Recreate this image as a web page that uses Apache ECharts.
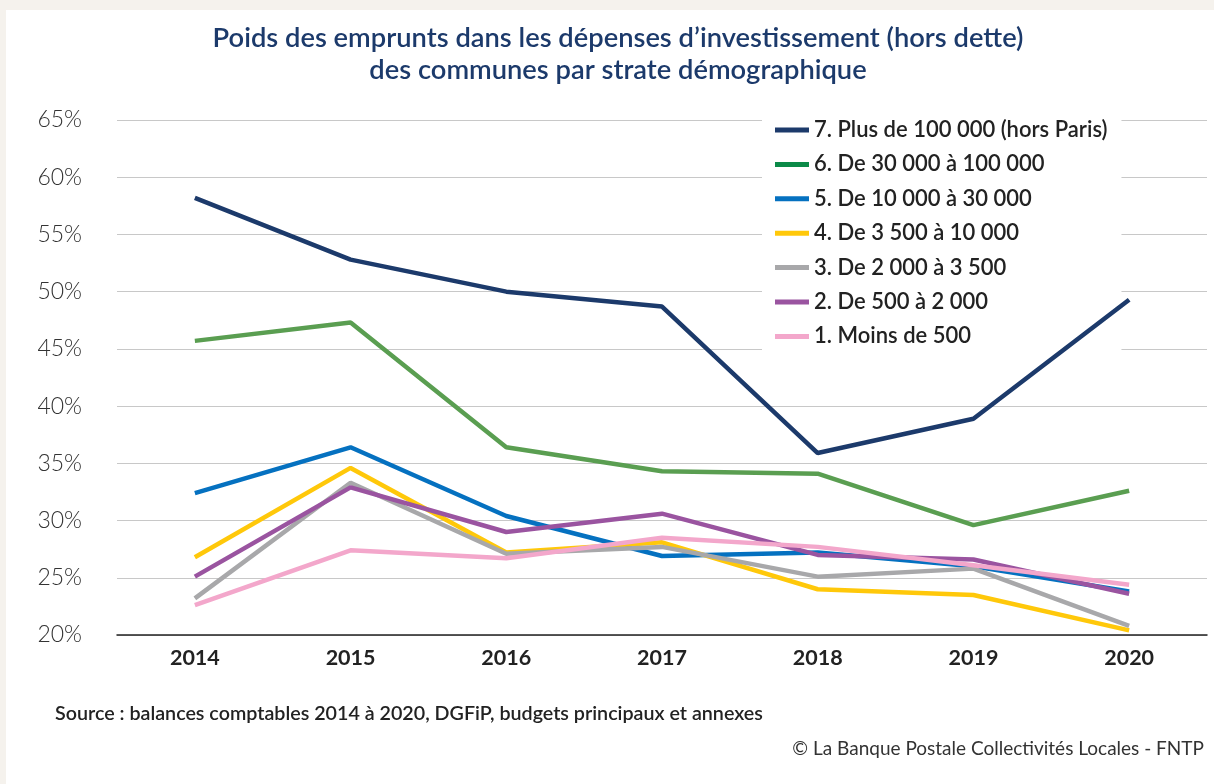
<!DOCTYPE html>
<html>
<head>
<meta charset="utf-8">
<title>Poids des emprunts</title>
<script src="https://cdn.jsdelivr.net/npm/echarts@6/dist/echarts.min.js"></script>
<style>
  html, body { margin: 0; padding: 0; background: #f5f2ed; }
  .panel { position: absolute; left: 6px; top: 10px; right: 0; bottom: 0; background: #fff; }
  #chart { position: absolute; left: 0; top: 0; width: 1214px; height: 784px; }
</style>
</head>
<body>
<div class="panel"></div>
<div id="chart"></div>
<script>
// années
const years = ['2014', '2015', '2016', '2017', '2018', '2019', '2020']

// strates (ordre de la légende)
const strataNames = [
  '7. Plus de 100 000 (hors Paris)',
  '6. De 30 000 à 100 000',
  '5. De 10 000 à 30 000',
  '4. De 3 500 à 10 000',
  '3. De 2 000 à 3 500',
  '2. De 500 à 2 000',
  '1. Moins de 500'
]

// poids des emprunts, en %
const plus100k = [58.2, 52.8, 50.0, 48.7, 35.9, 38.9, 49.3]
const de30kA100k = [45.7, 47.3, 36.4, 34.3, 34.1, 29.6, 32.6]
const de10kA30k = [32.4, 36.4, 30.4, 26.9, 27.2, 26.0, 23.8]
const de3500A10k = [26.8, 34.6, 27.2, 28.1, 24.0, 23.5, 20.4]
const de2000A3500 = [23.2, 33.3, 27.1, 27.7, 25.1, 25.8, 20.8]
const de500A2000 = [25.1, 32.9, 29.0, 30.6, 27.0, 26.6, 23.6]
const moinsDe500 = [22.6, 27.4, 26.7, 28.5, 27.7, 26.1, 24.4]

const seriesData = [plus100k, de30kA100k, de10kA30k, de3500A10k, de2000A3500, de500A2000, moinsDe500]
const lineColors = ['#1c3a6b', '#5a9e51', '#0571c0', '#ffc80a', '#a8a8aa', '#9a54a0', '#f3a7cb']
const legendColors = ['#1c3a6b', '#0b8a48', '#0571c0', '#ffc80a', '#a8a8aa', '#9a54a0', '#f3a7cb']

const font = 'Lato, "Noto Sans", sans-serif'

const chart = echarts.init(document.getElementById('chart'))
chart.setOption({
  animation: false,
  textStyle: { fontFamily: font },
  title: {
    text: 'Poids des emprunts dans les dépenses d’investissement (hors dette)\ndes communes par strate démographique',
    left: 618,
    textAlign: 'center',
    top: 22,
    padding: 0,
    textStyle: {
      color: '#1c3a6b',
      fontSize: 27.3,
      fontWeight: 600,
      lineHeight: 32,
      fontFamily: font
    }
  },
  legend: {
    orient: 'vertical',
    left: 762,
    top: 109,
    z: 1,
    padding: [10, 14, 8, 13],
    backgroundColor: '#fff',
    icon: 'rect',
    itemWidth: 34,
    itemHeight: 5,
    itemGap: 12.4,
    data: strataNames.map((n, i) => ({ name: n, itemStyle: { color: legendColors[i] } })),
    textStyle: {
      color: '#222',
      fontSize: 22,
      fontWeight: 600,
      lineHeight: 22,
      fontFamily: font
    }
  },
  grid: { left: 117, right: 7, top: 120, bottom: 149 },
  xAxis: {
    type: 'category',
    data: years,
    axisTick: { show: false },
    axisLine: { lineStyle: { color: '#222', width: 1.5 } },
    axisLabel: { color: '#222', fontSize: 21.5, fontWeight: 'bold', margin: 12, fontFamily: font }
  },
  yAxis: {
    type: 'value',
    min: 20,
    max: 65,
    interval: 5,
    axisLine: { show: false },
    axisTick: { show: false },
    axisLabel: {
      formatter: '{value}%',
      color: '#333',
      fontSize: 23,
      fontWeight: 300,
      margin: 35,
      fontFamily: font
    },
    splitLine: { lineStyle: { color: '#c8c8c8', width: 1.2 } }
  },
  series: strataNames.map((n, i) => ({
    name: n,
    type: 'line',
    z: 3,
    data: seriesData[i],
    symbol: 'none',
    lineStyle: { width: 4.5, color: lineColors[i] },
    itemStyle: { color: lineColors[i] }
  })),
  graphic: [
    {
      type: 'text',
      left: 55,
      top: 704,
      style: {
        text: 'Source : balances comptables 2014 à 2020, DGFiP, budgets principaux et annexes',
        fill: '#222',
        font: '600 19.7px ' + font
      }
    },
    {
      type: 'text',
      right: 10,
      top: 739,
      style: {
        text: '© La Banque Postale Collectivités Locales - FNTP',
        fill: '#333',
        font: '19px ' + font
      }
    }
  ]
})
window.addEventListener('resize', () => {
  chart.resize()
})
</script>
</body>
</html>
